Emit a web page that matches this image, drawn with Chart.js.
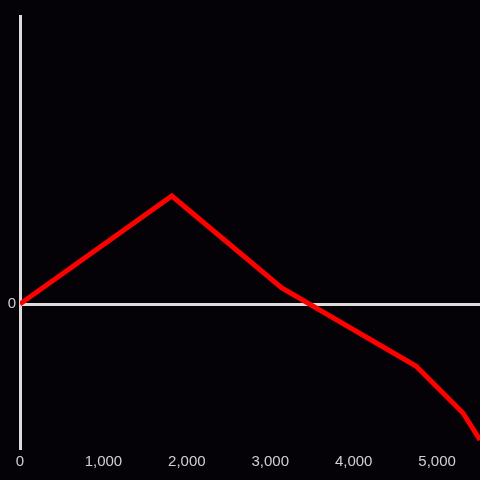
<!DOCTYPE html>
<html>
<head>
<meta charset="utf-8">
<script src="https://cdn.jsdelivr.net/npm/chart.js@4"></script>
<style>
html,body{margin:0;padding:0;background:#040206;}
canvas{display:block;}
</style>
</head>
<body>
<canvas id="c" width="480" height="480"></canvas>
<script>
const xValues = [0, 1820, 3138, 4746, 5310, 5514];
const yValues = [0, 108, 16, -62, -109, -136];
const xTicks = [0, 1000, 2000, 3000, 4000, 5000];
const yTicks = [0];

const points = xValues.map((x, i) => ({x: x, y: yValues[i]}));

new Chart(document.getElementById('c'), {
  type: 'line',
  data: {
    datasets: [{
      data: points,
      borderColor: '#ff0000',
      borderWidth: 5,
      pointRadius: 0,
      tension: 0,
      fill: false
    }]
  },
  options: {
    responsive: false,
    animation: false,
    layout: {padding: {top: 16, right: 0, left: 0, bottom: 0}},
    plugins: {legend: {display: false}, tooltip: {enabled: false}},
    scales: {
      x: {
        type: 'linear',
        min: 0,
        max: 5514,
        afterBuildTicks: s => { s.ticks = xTicks.map(v => ({value: v})); },
        afterFit: s => { s.height = 32; },
        grid: {display: false, drawTicks: false},
        border: {display: false},
        ticks: {
          color: '#d0d0d0',
          font: {size: 15, family: 'Liberation Sans, Arial, sans-serif'},
          padding: 5,
          maxRotation: 0,
          callback: v => v.toLocaleString('en-US')
        }
      },
      y: {
        type: 'linear',
        min: -144,
        max: 288,
        afterBuildTicks: s => { s.ticks = yTicks.map(v => ({value: v})); },
        afterFit: s => { s.width = 20; },
        grid: {
          drawTicks: false,
          color: '#dcdcdc',
          lineWidth: 3
        },
        border: {display: true, color: '#dcdcdc', width: 3},
        ticks: {
          color: '#d0d0d0',
          font: {size: 15, family: 'Liberation Sans, Arial, sans-serif'},
          padding: 4
        }
      }
    }
  }
});
</script>
</body>
</html>
